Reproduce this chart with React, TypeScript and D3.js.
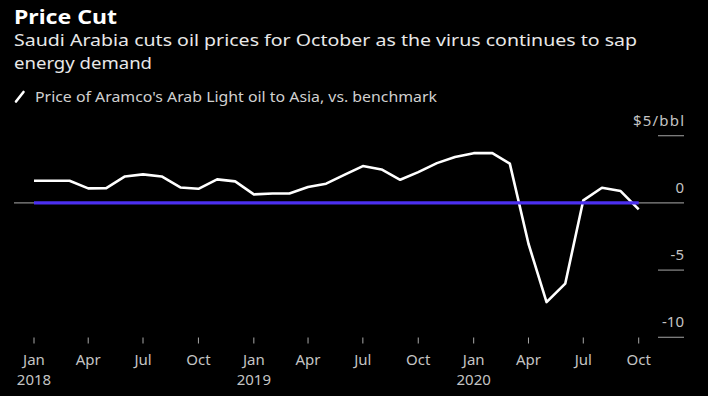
import React from "react";
import * as d3 from "d3";

const months: string[] = [
  "2018-01","2018-02","2018-03","2018-04","2018-05","2018-06","2018-07","2018-08","2018-09","2018-10","2018-11","2018-12",
  "2019-01","2019-02","2019-03","2019-04","2019-05","2019-06","2019-07","2019-08","2019-09","2019-10","2019-11","2019-12",
  "2020-01","2020-02","2020-03","2020-04","2020-05","2020-06","2020-07","2020-08","2020-09","2020-10",
];
const arabLight: number[] = [
  1.65, 1.65, 1.65, 1.08, 1.1, 1.97, 2.12, 1.97, 1.15, 1.05, 1.75, 1.6,
  0.63, 0.7, 0.7, 1.18, 1.43, 2.1, 2.74, 2.49, 1.72, 2.29, 2.96, 3.41,
  3.7, 3.7, 2.92, -3.04, -7.38, -6.01, 0.19, 1.13, 0.88, -0.48,
];
const benchmark: number[] = [0, 0];
const yTicks: number[] = [5, 0, -5, -10];
const yTickLabels: string[] = ["$5/bbl", "0", "-5", "-10"];
const monthNames: string[] = ["Jan","Feb","Mar","Apr","May","Jun","Jul","Aug","Sep","Oct","Nov","Dec"];

const title = "Price Cut";
const subtitle1 = "Saudi Arabia cuts oil prices for October as the virus continues to sap";
const subtitle2 = "energy demand";
const legendLabel = "Price of Aramco's Arab Light oil to Asia, vs. benchmark";

const FONT = "'Noto Sans', 'Open Sans', sans-serif";

export default function App() {
  const parse = d3.timeParse("%Y-%m");
  const dates = months.map((m) => parse(m) as Date);
  const data = dates.map((d, i) => ({ d, v: arabLight[i] }));

  const x = d3.scaleTime().domain([dates[0], dates[dates.length - 1]]).range([34, 638.7]);
  const y = d3.scaleLinear().domain([-10, 5]).range([337.3, 135.7]);

  const line = d3
    .line<{ d: Date; v: number }>()
    .x((p) => x(p.d))
    .y((p) => y(p.v));

  const benchData = [dates[0], dates[dates.length - 1]].map((d, i) => ({ d, v: benchmark[i] }));

  const xTicks = d3.timeMonth.every(3)!.range(dates[0], d3.timeMonth.offset(dates[dates.length - 1], 1));

  const axisColor = "#c4c4c4";

  return (
    <svg
      width={708}
      height={396}
      style={{ position: "absolute", left: 0, top: 0, background: "#000", display: "block" }}
    >
      <rect x={0} y={0} width={708} height={396} fill="#000" />
      <text x={14} y={23.5} fill="#fff" fontFamily={FONT} fontWeight="bold" fontSize={19} textLength={103} lengthAdjust="spacingAndGlyphs">
        {title}
      </text>
      <text x={14} y={46} fill="#e8e8e8" fontFamily={FONT} fontSize={17} textLength={623} lengthAdjust="spacingAndGlyphs">
        {subtitle1}
      </text>
      <text x={14} y={68.5} fill="#e8e8e8" fontFamily={FONT} fontSize={17} textLength={138} lengthAdjust="spacingAndGlyphs">
        {subtitle2}
      </text>
      <line x1={16} y1={101.5} x2={23.5} y2={92} stroke="#fff" strokeWidth={2.6} strokeLinecap="round" />
      <text x={35} y={101.5} fill="#d0d0d0" fontFamily={FONT} fontSize={14.5} textLength={402} lengthAdjust="spacingAndGlyphs">
        {legendLabel}
      </text>

      {/* y gridline stubs & labels */}
      {yTicks.map((t, i) => (
        <g key={t}>
          {t !== 0 && <line x1={658} x2={684} y1={y(t)} y2={y(t)} stroke="#8a8a8a" strokeWidth={1.2} />}
          {i === 0 ? (
            <text x={633} y={y(t) - 10} fill={axisColor} fontFamily={FONT} fontSize={15} textLength={51} lengthAdjust="spacing">
              {yTickLabels[i]}
            </text>
          ) : (
            <text x={684} y={y(t) - 10} textAnchor="end" fill={axisColor} fontFamily={FONT} fontSize={15}>
              {yTickLabels[i]}
            </text>
          )}
        </g>
      ))}
      {/* zero line */}
      <line x1={14} x2={684} y1={y(0)} y2={y(0)} stroke="#8a8a8a" strokeWidth={1.2} />

      {/* x ticks */}
      {xTicks.map((d) => {
        const xx = x(d);
        const m = d.getMonth();
        return (
          <g key={+d}>
            <line x1={xx} x2={xx} y1={337.5} y2={343.5} stroke="#a8a8a8" strokeWidth={1} />
            <text x={xx} y={365} textAnchor="middle" fill={axisColor} fontFamily={FONT} fontSize={15}>
              {monthNames[m]}
            </text>
            {m === 0 && (
              <text x={xx} y={384.5} textAnchor="middle" fill={axisColor} fontFamily={FONT} fontSize={15}>
                {String(d.getFullYear())}
              </text>
            )}
          </g>
        );
      })}

      <path d={line(data) || ""} fill="none" stroke="#fff" strokeWidth={2.6} strokeLinejoin="round" />
      <path d={line(benchData) || ""} fill="none" stroke="#4b2ff0" strokeWidth={3.2} />
    </svg>
  );
}
